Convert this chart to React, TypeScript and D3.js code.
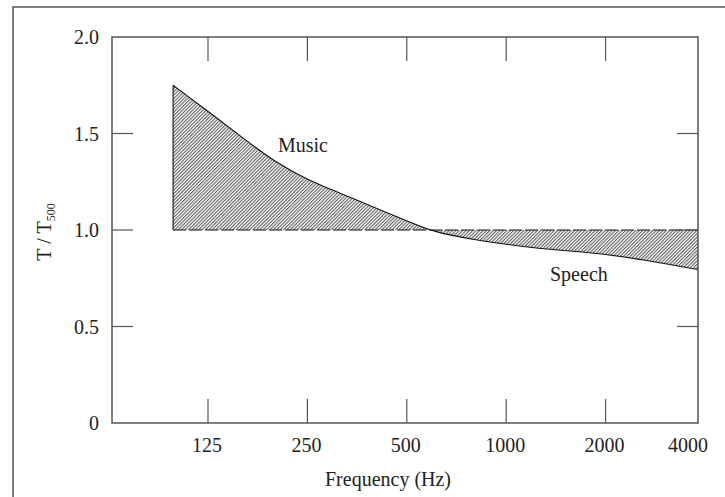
import React from "react";
import * as d3 from "d3";

// reverberation time ratio T/T500 vs frequency
const freqs = [98, 125, 160, 200, 250, 315, 400, 500, 600, 800, 1000, 1250, 1600, 2000, 2500, 3150, 3810];
const ratio = [1.75, 1.615, 1.475, 1.35, 1.26, 1.19, 1.115, 1.048, 0.99, 0.95, 0.925, 0.905, 0.89, 0.875, 0.85, 0.82, 0.795];
const xTicks = [125, 250, 500, 1000, 2000];
const xLabels = [125, 250, 500, 1000, 2000, 4000];
const yTicks = [0.5, 1.0, 1.5];
const yLabels = [0, 0.5, 1.0, 1.5, 2.0];

const W = 725;
const H = 497;
const font = "'Liberation Serif', 'Times New Roman', serif";

const App = () => {
  const left = 112, right = 698, top = 37, bottom = 423;

  const x = d3.scaleLog().base(2).domain([64, 3810]).range([left, right]);
  const y = d3.scaleLinear().domain([0, 2]).range([bottom, top]);

  const data = freqs.map((f, i) => ({ f, v: ratio[i] }));

  const area = d3.area<{ f: number; v: number }>()
    .x((d) => x(d.f))
    .y0(y(1))
    .y1((d) => y(d.v))
    .curve(d3.curveBasis);

  const line = d3.line<{ f: number; v: number }>()
    .x((d) => x(d.f))
    .y((d) => y(d.v))
    .curve(d3.curveBasis);

  const gray = "#555";

  return (
    <svg width={W} height={H} style={{ position: "absolute", left: 0, top: 0, background: "#fff" }}>
      <defs>
        <pattern id="hatch" width={2.4} height={8} patternUnits="userSpaceOnUse" patternTransform="rotate(45)">
          <line x1={0.6} y1={0} x2={0.6} y2={8} stroke="#3a3a3a" strokeWidth={0.9} />
        </pattern>
        <clipPath id="plot">
          <rect x={left} y={top} width={right - left} height={bottom - top} />
        </clipPath>
      </defs>

      {/* outer frame */}
      <rect x={13} y={7} width={730} height={510} fill="none" stroke={gray} strokeWidth={1.5} />

      {/* shaded band between curve and T/T500 = 1 */}
      <g clipPath="url(#plot)">
        <path d={area(data) ?? ""} fill="url(#hatch)" stroke="none" />
        <path d={line(data) ?? ""} fill="none" stroke="#111" strokeWidth={1.1} />
        <line x1={x(freqs[0])} x2={x(freqs[0])} y1={y(1)} y2={y(ratio[0])} stroke="#111" strokeWidth={1.1} />
        <line x1={x(freqs[0])} x2={right} y1={y(1)} y2={y(1)} stroke="#111" strokeWidth={1.1} strokeDasharray="13,3" />
      </g>

      {/* plot frame */}
      <rect x={left} y={top} width={right - left} height={bottom - top} fill="none" stroke={gray} strokeWidth={1.5} />

      {xTicks.map((t) => (
        <g key={`xt-${t}`}>
          <line x1={x(t)} x2={x(t)} y1={bottom} y2={bottom - 24} stroke={gray} strokeWidth={1.2} />
          <line x1={x(t)} x2={x(t)} y1={top} y2={top + 24} stroke={gray} strokeWidth={1.2} />
        </g>
      ))}
      {yTicks.map((t) => (
        <g key={`yt-${t}`}>
          <line x1={left} x2={left + 21} y1={y(t)} y2={y(t)} stroke={gray} strokeWidth={1.2} />
          <line x1={right} x2={right - 21} y1={y(t)} y2={y(t)} stroke={gray} strokeWidth={1.2} />
        </g>
      ))}

      {xLabels.map((t) => (
        <text key={`xl-${t}`} x={Math.min(x(t), right - 9) - 1} y={452} textAnchor="middle"
          fontFamily={font} fontSize={20} fill="#222">{t}</text>
      ))}
      {yLabels.map((t) => (
        <text key={`yl-${t}`} x={left - 13} y={y(t) + 7} textAnchor="end"
          fontFamily={font} fontSize={20} fill="#222">{t === 0 ? "0" : d3.format(".1f")(t)}</text>
      ))}

      <text x={388} y={486} textAnchor="middle" fontFamily={font} fontSize={20} fill="#222">Frequency (Hz)</text>
      <text transform={`translate(51,232) rotate(-90)`} textAnchor="middle" fontFamily={font} fontSize={20} fill="#222">
        T / T<tspan fontSize={12} dy={4}>500</tspan>
      </text>

      <text x={278} y={152} fontFamily={font} fontSize={20} fill="#222">Music</text>
      <text x={550} y={281} fontFamily={font} fontSize={20} fill="#222">Speech</text>
    </svg>
  );
};

export default App;
